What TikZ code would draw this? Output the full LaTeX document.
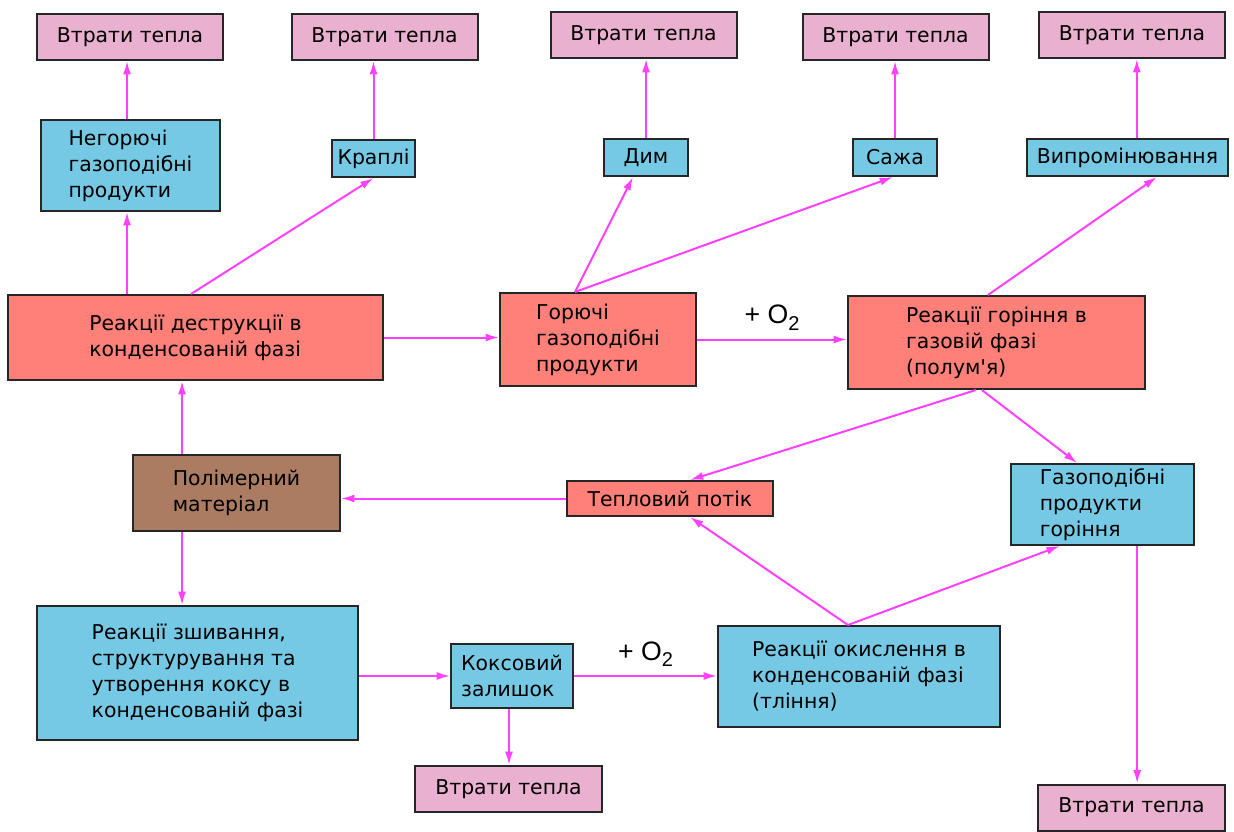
\documentclass[tikz,border=0pt]{standalone}
\usepackage{fontspec}
\newfontfamily\boxfont{DejaVu Sans}
\newfontfamily\oxyfont{Liberation Sans}
\usetikzlibrary{positioning,arrows.meta}
\definecolor{lossfill}{RGB}{234,176,208}
\definecolor{prodfill}{RGB}{118,201,228}
\definecolor{reactfill}{RGB}{255,128,120}
\definecolor{matfill}{RGB}{172,124,98}
\definecolor{flowline}{RGB}{255,64,255}
\newcommand{\oxygen}{+ O\raisebox{-0.45ex}{\fontsize{15}{15}\selectfont 2}}

\begin{document}
\begin{tikzpicture}[x=0.75pt,y=-0.75pt,
  every node/.style={font=\boxfont\fontsize{15.3}{19.5}\selectfont},
  >={Latex[length=10pt,width=6pt]},
  box/.style={draw=black!85,line width=1.5pt,inner sep=0pt,align=left},
  lossbox/.style={box,fill=lossfill,minimum width=139.5pt,minimum height=34.5pt},
  prodbox/.style={box,fill=prodfill},
  reactbox/.style={box,fill=reactfill},
  matbox/.style={box,fill=matfill},
  flow/.style={->,draw=flowline,line width=1.5pt},
  oxy/.style={midway,above=3pt,font=\oxyfont\fontsize{20}{22}\selectfont}]
  \useasboundingbox (0,0) rectangle (1234,831);

  \node[lossbox] (loss1) at (130,37) {Втрати тепла};
  \node[lossbox] (loss2) at (384.5,37) {Втрати тепла};
  \node[lossbox] (loss3) at (643.5,35) {Втрати тепла};
  \node[lossbox] (loss4) at (895.5,37) {Втрати тепла};
  \node[lossbox] (loss5) at (1132,35) {Втрати тепла};

  \node[prodbox,minimum width=134.25pt,minimum height=68.25pt] (negor) at (130.5,165.5)
    {Негорючі\\газоподібні\\продукти};
  \node[prodbox,minimum width=62.25pt,minimum height=27.75pt] (krapli) at (373.5,158.5) {Краплі};
  \node[prodbox,minimum width=63pt,minimum height=27.75pt] (dym) at (646,157.5) {Дим};
  \node[prodbox,minimum width=63pt,minimum height=27.75pt] (sazha) at (895,157.5) {Сажа};
  \node[prodbox,minimum width=150.75pt,minimum height=27.75pt] (vyprom) at (1127.5,157.5) {Випромінювання};

  \node[reactbox,minimum width=281.25pt,minimum height=63.75pt] (destr) at (195.5,337.5)
    {Реакції деструкції в\\конденсованій фазі};
  \node[reactbox,minimum width=147pt,minimum height=69.75pt] (goriuchi) at (598,339.5)
    {Горючі\\газоподібні\\продукти};
  \node[reactbox,minimum width=222.75pt,minimum height=69.75pt] (gorinnia) at (996.5,342.5)
    {Реакції горіння в\\газовій фазі\\(полум'я)};

  \node[matbox,minimum width=155.25pt,minimum height=57pt] (polimer) at (236.5,493)
    {Полімерний\\матеріал};
  \node[reactbox,minimum width=154.5pt,minimum height=26.25pt] (teplo) at (670,498.5) {Тепловий потік};
  \node[prodbox,minimum width=137.25pt,minimum height=60.75pt] (gazprod) at (1102.5,504.5)
    {Газоподібні\\продукти\\горіння};

  \node[prodbox,minimum width=240.75pt,minimum height=100.5pt] (zshyv) at (197.5,673)
    {Реакції зшивання,\\структурування та\\утворення коксу в\\конденсованій фазі};
  \node[prodbox,minimum width=91.5pt,minimum height=48pt] (koks) at (512,676)
    {Коксовий\\залишок};
  \node[prodbox,minimum width=211.5pt,minimum height=75.75pt] (okysl) at (859,676.5)
    {Реакції окислення в\\конденсованій фазі\\(тління)};

  \node[lossbox,minimum width=140.25pt] (loss6) at (508.5,789) {Втрати тепла};
  \node[lossbox,minimum width=140.25pt] (loss7) at (1131.5,807.5) {Втрати тепла};

  \coordinate (leftaxis) at (182,0);
  \coordinate (negaxis) at (127,0);

  \draw[flow] (negor.north -| negaxis) -- (loss1.south -| negaxis);
  \draw[flow] (destr.north -| negaxis) -- (negor.south -| negaxis);
  \draw[flow] ([xshift=-3.4pt]destr.north) -- (krapli.south);
  \draw[flow] (krapli.north) -- (krapli.north |- loss2.south);
  \draw[flow] (destr.east) -- (destr.east -| goriuchi.west);
  \draw[flow] ([xshift=-17.25pt]goriuchi.north) -- ([xshift=-9.75pt]dym.south);
  \draw[flow] ([xshift=-17.25pt]goriuchi.north) -- ([xshift=-1.5pt]sazha.south);
  \draw[flow] (dym.north) -- (dym.north |- loss3.south);
  \draw[flow] (sazha.north) -- (sazha.north |- loss4.south);
  \draw[flow] ([xshift=-6.4pt]gorinnia.north) -- ([xshift=22pt]vyprom.south);
  \draw[flow] ([xshift=7pt]vyprom.north) -- ([xshift=7pt]vyprom.north |- loss5.south);
  \draw[flow] (goriuchi.east) -- (goriuchi.east -| gorinnia.west) node[oxy] {\oxygen};
  \draw[flow] ([xshift=-15.4pt]gorinnia.south) -- ([xshift=15pt]teplo.north);
  \draw[flow] ([xshift=-11pt]gorinnia.south) -- ([xshift=-19pt]gazprod.north);
  \draw[flow] (teplo.west) -- (teplo.west -| polimer.east);
  \draw[flow] (polimer.north -| leftaxis) -- (destr.south -| leftaxis);
  \draw[flow] (polimer.south -| leftaxis) -- (zshyv.north -| leftaxis);
  \draw[flow] (koks.west -| zshyv.east) -- (koks.west);
  \draw[flow] (koks.east) -- (koks.east -| okysl.west) node[oxy] {\oxygen};
  \draw[flow] ([xshift=-2.25pt]koks.south) -- ([xshift=-2.25pt]koks.south |- loss6.north);
  \draw[flow] ([xshift=-8.25pt]okysl.north) -- ([xshift=15pt]teplo.south);
  \draw[flow] ([xshift=-8.25pt]okysl.north) -- ([xshift=-32pt]gazprod.south);
  \draw[flow] ([xshift=26pt]gazprod.south) -- ([xshift=26pt]gazprod.south |- loss7.north);
\end{tikzpicture}
\end{document}
